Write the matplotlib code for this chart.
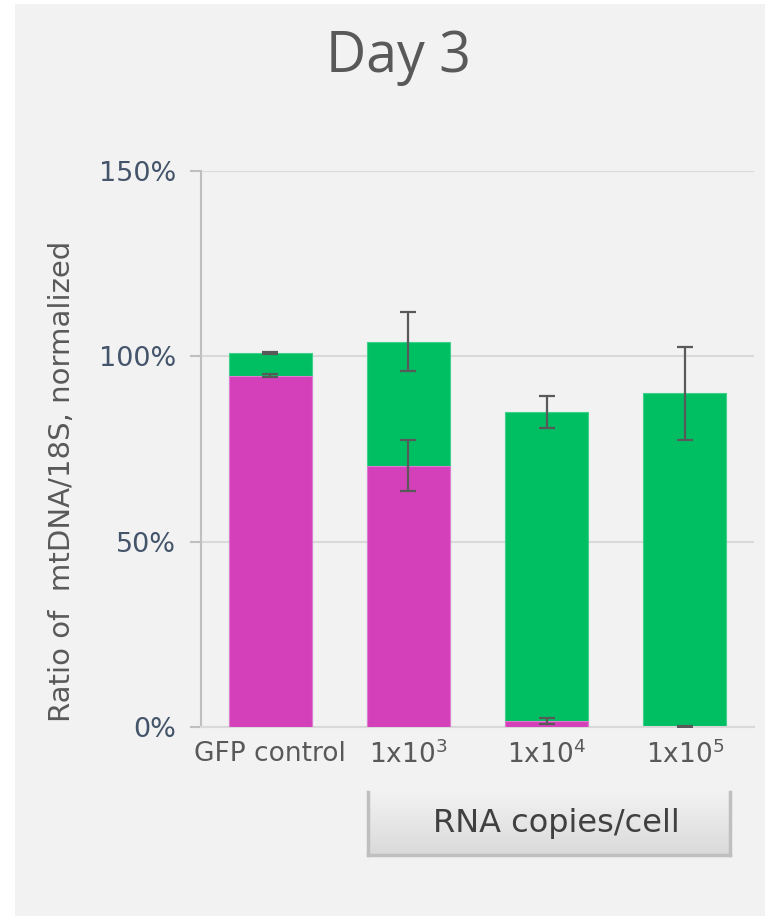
import numpy as np
import matplotlib
matplotlib.use("Agg")
import matplotlib.pyplot as plt

# values (percent, normalized)
categories = ["GFP control", "1x10$^3$", "1x10$^4$", "1x10$^5$"]
green_total = [101.0, 104.0, 85.0, 90.0]
green_err = [0.3, 8.0, 4.2, 12.5]
magenta_vals = [94.7, 70.5, 1.6, 0.1]
magenta_err = [0.4, 6.8, 0.7, 0.2]

W, H = 765, 916
plt.rcParams["mathtext.default"] = "regular"
fig = plt.figure(figsize=(W / 100, H / 100), dpi=100)
fig.patch.set_facecolor("white")

# light gray panel behind everything
bg = fig.add_axes([15 / W, 0, 1 - 15 / W, 1 - 4 / H])
bg.set_facecolor("#f2f2f2")
bg.set_xticks([])
bg.set_yticks([])
for s in bg.spines.values():
    s.set_visible(False)

ax = fig.add_axes([201 / W, (H - 727) / H, (754 - 201) / W, (727 - 171) / H])
ax.set_facecolor("none")

x = np.arange(len(categories))
bw = 0.6
ekw = dict(ecolor="#595959", elinewidth=1.6, capsize=6, capthick=1.6)
ax.bar(x, green_total, width=bw, color="#00bf63", edgecolor="#3fd08a",
       linewidth=0.8, yerr=green_err, error_kw=ekw, zorder=2)
ax.bar(x, magenta_vals, width=bw, color="#d340b9", edgecolor="#e07ad0",
       linewidth=0.8, yerr=magenta_err, error_kw=ekw, zorder=3)

ax.set_xlim(-0.5, len(categories) - 0.5)
ax.set_ylim(0, 150)
ax.set_yticks([0, 50, 100, 150])
ax.set_yticklabels(["0%", "50%", "100%", "150%"])
ax.yaxis.grid(True, color="#d9d9d9", linewidth=1.5, zorder=0)
ax.set_axisbelow(True)
ax.tick_params(axis="y", length=8, width=1.5, color="#bfbfbf",
               labelsize=19.5, labelcolor="#44546a", pad=10)
ax.tick_params(axis="x", length=0, labelsize=19, labelcolor="#595959", pad=10)
ax.set_xticks(x)
ax.set_xticklabels(categories)
for s in ["top", "right"]:
    ax.spines[s].set_visible(False)
ax.spines["left"].set_color("#bfbfbf")
ax.spines["left"].set_linewidth(1.5)
ax.spines["bottom"].set_color("#d9d9d9")
ax.spines["bottom"].set_linewidth(1.5)

ax.set_ylabel("Ratio of  mtDNA/18S, normalized", fontsize=21,
              color="#595959")
ax.yaxis.set_label_coords((76 - 201) / 553, (727 - 481) / 556)

fig.text(398 / W, 1 - 58 / H, "Day 3", fontsize=40, color="#595959",
         ha="center", va="center", family="Open Sans")

# "RNA copies/cell" box with soft gradient
bx = fig.add_axes([368 / W, (H - 855) / H, (730 - 368) / W, (855 - 792) / H])
grad = np.linspace(0, 1, 100).reshape(-1, 1)
cmap = matplotlib.colors.LinearSegmentedColormap.from_list("g", ["#f2f2f2", "#dadada"])
bx.imshow(grad, aspect="auto", cmap=cmap, extent=[0, 1, 0, 1], origin="upper")
bx.set_xticks([])
bx.set_yticks([])
bx.spines["top"].set_visible(False)
for s in ["left", "right", "bottom"]:
    bx.spines[s].set_color("#bfbfbf")
    bx.spines[s].set_linewidth(2.5)
bx.text(0.52, 0.5, "RNA copies/cell", fontsize=23, color="#404040",
        ha="center", va="center", transform=bx.transAxes)

fig.savefig("out.png", dpi=100, facecolor=fig.get_facecolor())
